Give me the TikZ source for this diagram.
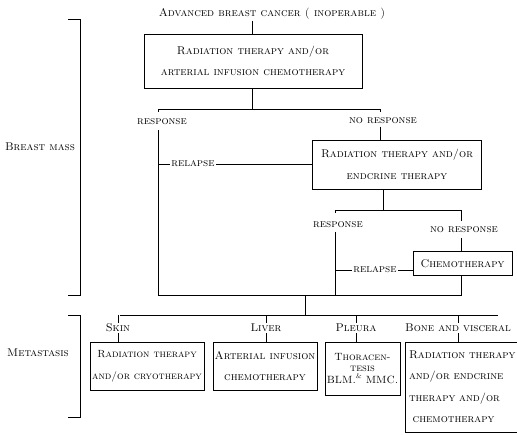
\documentclass[tikz,border=0pt]{standalone}
\usepackage{amsmath}
\usepackage{tikz}
\usetikzlibrary{arrows.meta}

\tikzset{
  stage/.style={draw, rectangle, align=center, inner sep=0pt, font=\fontsize{11.2}{21.5}\selectfont\scshape},
  tag/.style={inner sep=1pt, font=\fontsize{11.2}{13}\selectfont\scshape},
  link/.style={line width=0.6pt}
}

\begin{document}
\begin{tikzpicture}[x=1pt, y=-1pt]
        \useasboundingbox (0,0) rectangle (517,435);

        % Nodes
        \node[tag] (title) at (272, 14) {Advanced breast cancer ( inoperable )};
        \node[stage, minimum width=218pt, minimum height=54pt] (primary) at (253, 61) {Radiation therapy and/or\\arterial infusion chemotherapy};
        \node[tag] (resp) at (162, 122) {response};
        \node[tag] (noresp) at (383, 121) {no response};
        \node[stage, minimum width=169pt, minimum height=49pt] (endocrine) at (397, 164.5) {Radiation therapy and/or\\endcrine therapy};
        \node[tag] (relapse) at (193, 164) {relapse};
        \node[tag] (respb) at (338, 225) {response};
        \node[tag] (norespb) at (464, 230) {no response};
        \node[stage, minimum width=99pt, minimum height=24pt] (chemo) at (462.5, 263.5) {Chemotherapy};
        \node[tag] (relapseb) at (375, 270) {relapse};

        \node[tag] (skin) at (118, 328) {Skin};
        \node[tag] (liver) at (266, 328) {Liver};
        \node[tag] (pleura) at (356, 328) {Pleura};
        \node[tag] (bone) at (458, 328) {Bone and visceral};
        \node[stage, minimum width=114pt, minimum height=48pt, font=\fontsize{10.4}{21.5}\selectfont\scshape] (skintx) at (147, 366) {Radiation therapy\\and/or cryotherapy};
        \node[stage, minimum width=104pt, minimum height=48pt] (livertx) at (265, 366) {Arterial infusion\\chemotherapy};
        \node[stage, minimum width=75pt, minimum height=53pt, font=\fontsize{10.5}{11.5}\selectfont\scshape] (pleuratx) at (362.5, 368.5) {Thoracen-\\tesis\\BLM.\raisebox{5pt}{\scriptsize\&} MMC.};
        \node[stage, minimum width=116pt, minimum height=90pt, align=left, text width=108pt] (bonetx) at (463, 387) {Radiation therapy\\and/or endcrine\\therapy and/or\\\ chemotherapy};

        \node[tag] (mass) at (40, 147) {Breast mass};
        \node[tag] (meta) at (38, 353) {Metastasis};

        % Junctions
        \coordinate (split) at (252, 109);
        \coordinate (splitb) at (383, 210);
        \coordinate (merge) at (305, 295);
        \coordinate (bus) at (305, 315);

        % Lines
        \draw[link] (split |- title.south) -- (split |- primary.north);
        \draw[link] (split |- primary.south) -- (split);
        \draw[link] (158, 112) -- (158, 109) -- (380, 109) -- (380, 112);
        \draw[link] (158, 130) -- (158, 295) -- (merge);
        \draw[link] (380, 127) -- (380, 140);
        \draw[link] (158, 164) -- (relapse.west);
        \draw[link] (relapse.east) -- (endocrine.west |- relapse);
        \draw[link] (splitb |- endocrine.south) -- (splitb);
        \draw[link] (335, 213) -- (335, 210) -- (461, 210) -- (461, 221);
        \draw[link] (335, 232) -- (335, 295);
        \draw[link] (461, 238) -- (461, 252);
        \draw[link] (335, 270) -- (relapseb.west);
        \draw[link] (relapseb.east) -- (chemo.west |- relapseb);
        \draw[link] (461, 275) -- (461, 295) -- (merge);
        \draw[link] (merge) -- (bus);
        \draw[link] (120, 315) -- (498, 315);
        \foreach \lbl/\tx in {skin/skintx, liver/livertx, pleura/pleuratx, bone/bonetx} {
          \draw[link] (bus -| \lbl) -- (\lbl);
          \draw[link] (\lbl) -- (\lbl |- \tx.north);
        }

        % Brackets
        \draw[link] (68, 19) -- (80, 19) -- (80, 295) -- (68, 295);
        \draw[link] (68, 315) -- (80, 315) -- (80, 417) -- (68, 417);
\end{tikzpicture}
\end{document}
